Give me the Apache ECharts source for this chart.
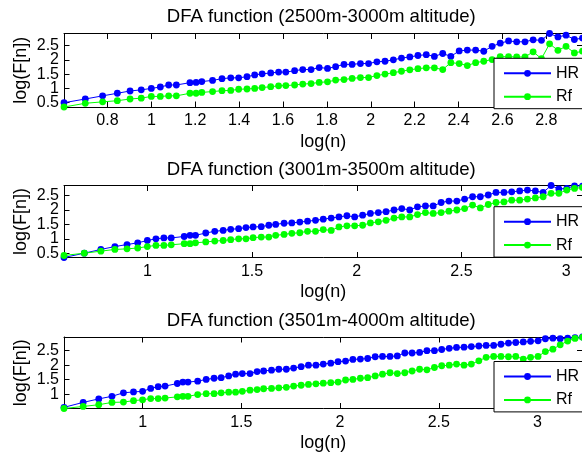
<!DOCTYPE html>
<html><head><meta charset="utf-8">
<script src="https://cdn.jsdelivr.net/npm/echarts@6/dist/echarts.min.js"></script>
<style>html,body{margin:0;padding:0;background:#fff}#c{width:582px;height:458px}</style>
</head><body><div id="c"></div>
<script>
// ---- data ----
const titles = ['DFA function (2500m-3000m altitude)','DFA function (3001m-3500m altitude)','DFA function (3501m-4000m altitude)'];
const seriesNames = ['HR','Rf'];

const logN1 = [0.602,0.699,0.778,0.845,0.903,0.954,1.000,1.041,1.079,1.114,1.176,1.204,1.230,1.279,1.322,1.362,1.398,1.436,1.471,1.505,1.544,1.580,1.613,
1.653,1.690,1.728,1.765,1.803,1.840,1.878,1.915,1.953,1.990,
2.028,2.065,2.103,2.140,2.178,2.215,2.253,2.290,2.328,2.365,
2.403,2.440,2.478,2.515,2.553,2.590,2.628,2.665,2.703,2.740,
2.778,2.815,2.853,2.890,2.928,2.965];
const hr1 = [0.50,0.63,0.74,0.83,0.91,0.95,1.00,1.05,1.12,1.12,1.20,1.21,1.24,1.28,1.34,1.37,1.37,1.41,1.47,1.51,1.54,1.57,1.57,
1.62,1.66,1.66,1.73,1.70,1.76,1.84,1.84,1.87,1.87,
1.93,1.95,2.00,2.06,2.10,2.15,2.18,2.12,2.22,2.12,
2.31,2.34,2.34,2.30,2.47,2.58,2.66,2.63,2.63,2.70,
2.68,2.92,2.80,2.86,2.71,2.76];
const rf1 = [0.35,0.48,0.53,0.57,0.63,0.66,0.72,0.72,0.74,0.74,0.83,0.83,0.86,0.89,0.92,0.93,0.97,0.98,1.00,1.03,1.06,1.09,1.10,
1.12,1.15,1.17,1.21,1.23,1.29,1.31,1.35,1.38,1.38,
1.45,1.50,1.55,1.60,1.65,1.69,1.72,1.72,1.66,1.90,
1.87,1.80,1.90,1.95,2.01,2.11,2.11,2.10,2.10,2.28,
2.04,2.56,2.33,2.47,2.24,2.30];

const logN2 = [0.602,0.699,0.778,0.845,0.903,0.954,1.000,1.041,1.079,1.114,1.176,1.204,1.230,1.279,1.322,1.362,1.398,1.436,1.471,1.505,1.544,1.580,1.613,
1.653,1.690,1.728,1.765,1.803,1.840,1.878,1.915,1.953,1.990,
2.028,2.065,2.103,2.140,2.178,2.215,2.253,2.290,2.328,2.365,
2.403,2.440,2.478,2.515,2.553,2.590,2.628,2.665,2.703,2.740,
2.778,2.815,2.853,2.890,2.928,2.965,3.003,3.040,3.078];
const hr2 = [0.35,0.50,0.63,0.73,0.80,0.86,0.94,1.00,1.03,1.03,1.08,1.12,1.12,1.20,1.26,1.29,1.33,1.35,1.39,1.41,1.42,1.47,1.50,1.54,
1.55,1.58,1.61,1.64,1.68,1.72,1.76,1.80,1.76,1.82,
1.88,1.91,1.94,2.00,2.05,2.00,2.11,2.14,2.14,2.26,
2.31,2.31,2.38,2.46,2.46,2.52,2.61,2.61,2.63,2.66,
2.69,2.66,2.61,2.85,2.73,2.75,2.84,
2.83];
const rf2 = [0.42,0.50,0.57,0.63,0.65,0.68,0.73,0.77,0.77,0.79,0.83,0.83,0.86,0.89,0.92,0.94,0.97,1.00,1.00,1.04,1.06,1.06,1.12,1.15,
1.19,1.21,1.26,1.26,1.32,1.29,1.41,1.45,1.45,1.47,
1.55,1.59,1.64,1.72,1.76,1.76,1.84,1.91,1.88,1.91,
1.96,2.00,2.05,2.17,2.07,2.19,2.26,2.28,2.34,2.34,
2.38,2.42,2.46,2.58,2.58,2.69,2.75,
2.78];

const logN3 = [0.602,0.699,0.778,0.845,0.903,0.954,1.000,1.041,1.079,1.114,1.176,1.204,1.230,1.279,1.322,1.362,1.398,1.436,1.471,1.505,1.544,1.580,1.613,
1.653,1.690,1.728,1.765,1.803,1.840,1.878,1.915,1.953,1.990,
2.028,2.065,2.103,2.140,2.178,2.215,2.253,2.290,2.328,2.365,
2.403,2.440,2.478,2.515,2.553,2.590,2.628,2.665,2.703,2.740,
2.778,2.815,2.853,2.890,2.928,2.965,3.003,3.040,3.078,3.115,
3.153,3.190,3.228];
const hr3 = [0.55,0.72,0.84,0.93,1.05,1.08,1.10,1.20,1.26,1.28,1.37,1.42,1.42,1.45,1.51,1.55,1.57,1.63,1.69,1.71,1.71,1.78,1.80,1.83,1.86,1.86,
1.90,1.95,2.00,2.00,2.04,2.07,
2.12,2.14,2.20,2.21,2.23,2.29,2.30,2.30,2.32,2.42,2.42,2.44,2.50,2.50,2.54,2.58,2.61,2.62,2.64,2.66,2.68,2.68,2.72,2.76,2.78,2.80,2.82,2.84,2.91,
2.93,2.91,2.93,2.95,2.97];
const rf3 = [0.51,0.58,0.64,0.72,0.73,0.78,0.81,0.85,0.85,0.87,0.91,0.93,0.93,0.99,1.02,1.02,1.05,1.07,1.07,1.10,1.14,1.16,1.19,1.20,1.22,1.24,
1.28,1.31,1.34,1.36,1.38,1.40,
1.42,1.49,1.51,1.55,1.57,1.63,1.69,1.74,1.71,1.74,1.80,1.86,1.84,1.92,1.98,2.00,2.04,2.00,2.04,2.15,2.27,2.30,2.30,2.29,2.30,2.21,2.27,2.30,2.47,
2.55,2.70,2.83,2.92,2.96];

const xTicks1 = [0.8,1,1.2,1.4,1.6,1.8,2,2.2,2.4,2.6,2.8];
const xTicks23 = [1,1.5,2,2.5,3];
const yTicks12 = [0.5,1,1.5,2,2.5];
const yTicks3 = [1,1.5,2,2.5];
const xRanges = [[0.602,2.965],[0.602,3.078],[0.602,3.228]];
const yRanges = [[0.35,2.92],[0.35,2.85],[0.51,2.97]];

// ---- layout / style ----
const FONT = "'Liberation Sans', Arial, Helvetica, sans-serif";
const COLORS = {HR:'#0000ff', Rf:'#00ff00'};
const layout = [
  {top:33.5, height:73.5, legendTop:58.3, titleY:16.5},
  {top:185.5, height:72, legendTop:206.7, titleY:169.5},
  {top:337, height:71.5, legendTop:361.5, titleY:320.5}
];
const panels = [
  {x:logN1, hr:hr1, rf:rf1, xt:xTicks1, yt:yTicks12},
  {x:logN2, hr:hr2, rf:rf2, xt:xTicks23, yt:yTicks12},
  {x:logN3, hr:hr3, rf:rf3, xt:xTicks23, yt:yTicks3}
];
const GL = 64, GW = 518.5, TL = 5.5;
const zip = (xs, ys) => xs.map((v,i)=>[v, ys[i]]);

const blackLine = {show:true, onZero:false, lineStyle:{color:'#000', width:1}};
const labelBase = {show:true, fontSize:16, color:'#000', fontFamily:FONT,
  hideOverlap:false, showMinLabel:true, showMaxLabel:true};
const grid = [], xAxis = [], yAxis = [], series = [], legend = [], graphic = [];
panels.forEach((p, i) => {
  const L = layout[i];
  grid.push({left:GL, top:L.top, width:GW, height:L.height, containLabel:false, outerBoundsMode:'none', show:false});
  const xr = xRanges[i], yr = yRanges[i];
  xAxis.push({
    type:'value', gridIndex:i, position:'bottom', min:xr[0], max:xr[1],
    axisLine:blackLine,
    axisTick:{show:true, inside:true, length:TL, customValues:p.xt, lineStyle:{color:'#000'}},
    axisLabel:Object.assign({customValues:p.xt, margin:6}, labelBase),
    splitLine:{show:false},
    name:'log(n)', nameLocation:'middle', nameGap:26, nameMoveOverlap:false,
    nameTextStyle:{fontSize:18, color:'#000', fontFamily:FONT}
  });
  xAxis.push({
    type:'value', gridIndex:i, position:'top', min:xr[0], max:xr[1],
    axisLine:blackLine,
    axisTick:{show:true, inside:true, length:TL, customValues:p.xt, lineStyle:{color:'#000'}},
    axisLabel:{show:false}, splitLine:{show:false}
  });
  // left axis: line, all ticks, name and every other label
  const ytA = p.yt.filter((v,k)=>k%2===0), ytB = p.yt.filter((v,k)=>k%2===1);
  yAxis.push({
    type:'value', gridIndex:i, position:'left', min:yr[0], max:yr[1],
    axisLine:blackLine,
    axisTick:{show:true, inside:true, length:TL, customValues:p.yt, lineStyle:{color:'#000'}},
    axisLabel:Object.assign({customValues:ytA, margin:5}, labelBase),
    splitLine:{show:false},
    name:'log(F[n])', nameLocation:'middle', nameGap:34, nameMoveOverlap:false,
    nameTextStyle:{fontSize:18, color:'#000', fontFamily:FONT}
  });
  yAxis.push({
    type:'value', gridIndex:i, position:'right', min:yr[0], max:yr[1],
    axisLine:blackLine,
    axisTick:{show:true, inside:true, length:TL, customValues:p.yt, lineStyle:{color:'#000'}},
    axisLabel:{show:false}, splitLine:{show:false}
  });
  // second left axis carrying the remaining labels
  yAxis.push({
    type:'value', gridIndex:i, position:'left', offset:0, min:yr[0], max:yr[1],
    axisLine:{show:false}, axisTick:{show:false},
    axisLabel:Object.assign({customValues:ytB, margin:5}, labelBase),
    splitLine:{show:false}
  });
  [['HR', p.hr], ['Rf', p.rf]].forEach(([nm, ys]) => {
    series.push({
      type:'line', name:nm, xAxisIndex:2*i, yAxisIndex:3*i,
      data:zip(p.x, ys), symbol:'circle', symbolSize:6.8, showSymbol:true,
      color:COLORS[nm], lineStyle:{color:COLORS[nm], width:1},
      itemStyle:{color:COLORS[nm]}, clip:false, animation:false,
      emphasis:{disabled:true}
    });
  });
  legend.push({
    data:seriesNames, orient:'vertical', left:494, top:L.legendTop,
    padding:[7,40,4,9], itemWidth:47, itemHeight:8.5, itemGap:7.4,
    backgroundColor:'#fff', borderColor:'#000', borderWidth:1, borderRadius:0,
    selectedMode:false,
    textStyle:{fontSize:16, color:'#000', fontFamily:FONT, lineHeight:16}
  });
  graphic.push({
    type:'text', x:GL + GW/2 - 2, y:L.titleY, silent:true,
    style:{text:titles[i], align:'center', verticalAlign:'middle', fontSize:18.6, fontFamily:FONT, fill:'#000'}
  });
});

const chart = echarts.init(document.getElementById('c'), null, {renderer:'canvas'});
chart.setOption({
  backgroundColor:'#fff', animation:false,
  textStyle:{fontFamily:FONT},
  grid, xAxis, yAxis, series, legend, graphic
});
</script></body></html>
